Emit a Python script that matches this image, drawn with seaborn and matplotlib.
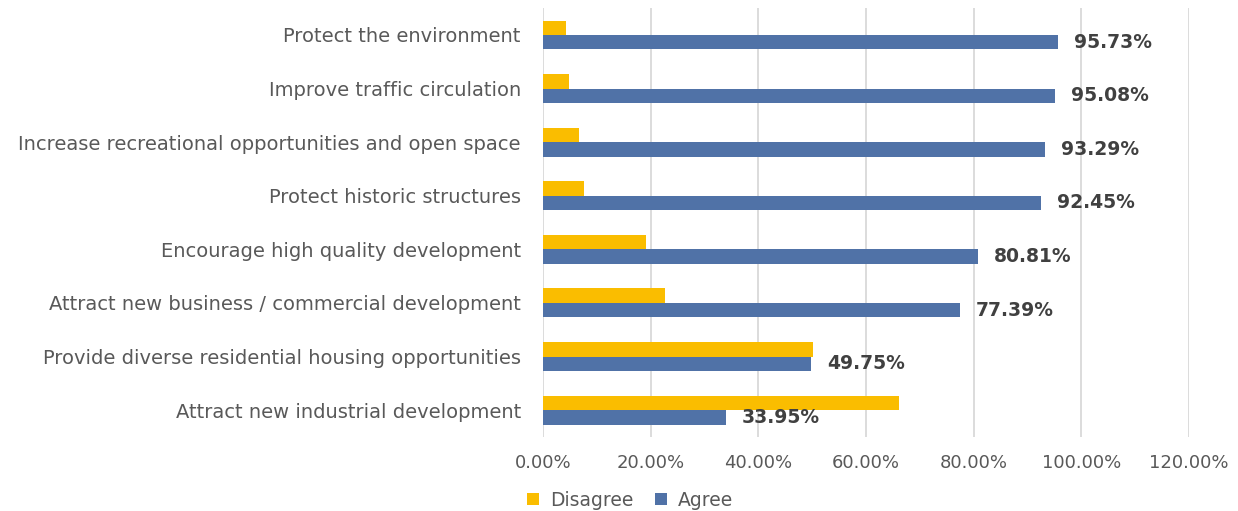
import pandas as pd
import matplotlib.pyplot as plt
import seaborn as sns

categories = [
    "Protect the environment",
    "Improve traffic circulation",
    "Increase recreational opportunities and open space",
    "Protect historic structures",
    "Encourage high quality development",
    "Attract new business / commercial development",
    "Provide diverse residential housing opportunities",
    "Attract new industrial development",
]
agree = [95.73, 95.08, 93.29, 92.45, 80.81, 77.39, 49.75, 33.95]
disagree = [4.27, 4.92, 6.71, 7.55, 19.19, 22.61, 50.25, 66.05]
series = ["Disagree", "Agree"]
colors = {"Disagree": "#FABD00", "Agree": "#5072A7"}
xticks = [0, 20, 40, 60, 80, 100, 120]

df = pd.DataFrame({
    "category": categories * 2,
    "series": ["Disagree"] * len(categories) + ["Agree"] * len(categories),
    "value": disagree + agree,
})

sns.set_style("white")
plt.rcParams['font.family'] = ['DejaVu Sans']

fig = plt.figure(figsize=(12.38, 5.11), dpi=100)
ax = fig.add_axes([0.4386, 0.145, 0.5218, 0.839])

sns.barplot(data=df, y="category", x="value", hue="series", order=categories,
            hue_order=series, palette=colors, orient="h", width=0.54,
            saturation=1, linewidth=0, ax=ax, legend=True)

# value labels only on the Agree bars
ax.bar_label(ax.containers[1], labels=[f"{v:.2f}%" for v in agree], padding=11.5,
             fontsize=13.5, fontweight='bold', color='#404040')

ax.set_xlim(0, 120)
ax.set_xticks(xticks)
ax.set_xticklabels([f"{t:.2f}%" for t in xticks])
ax.grid(axis='x', color='#D9D9D9', linewidth=1.3)
ax.set_axisbelow(True)
for s in ax.spines.values():
    s.set_visible(False)
ax.set_xlabel("")
ax.set_ylabel("")
ax.tick_params(axis='both', length=0, labelcolor='#595959')
ax.tick_params(axis='x', pad=12, labelsize=13)
ax.tick_params(axis='y', pad=16, labelsize=14)

handles, labels = ax.get_legend_handles_labels()
ax.get_legend().remove()
fig.legend(handles, labels, loc='center', bbox_to_anchor=(0.509, 0.0215),
           ncol=2, frameon=False, fontsize=13.5, labelcolor='#595959',
           handlelength=0.65, handleheight=0.65, handletextpad=0.6, columnspacing=1.1)

fig.savefig("out.png", dpi=100)
